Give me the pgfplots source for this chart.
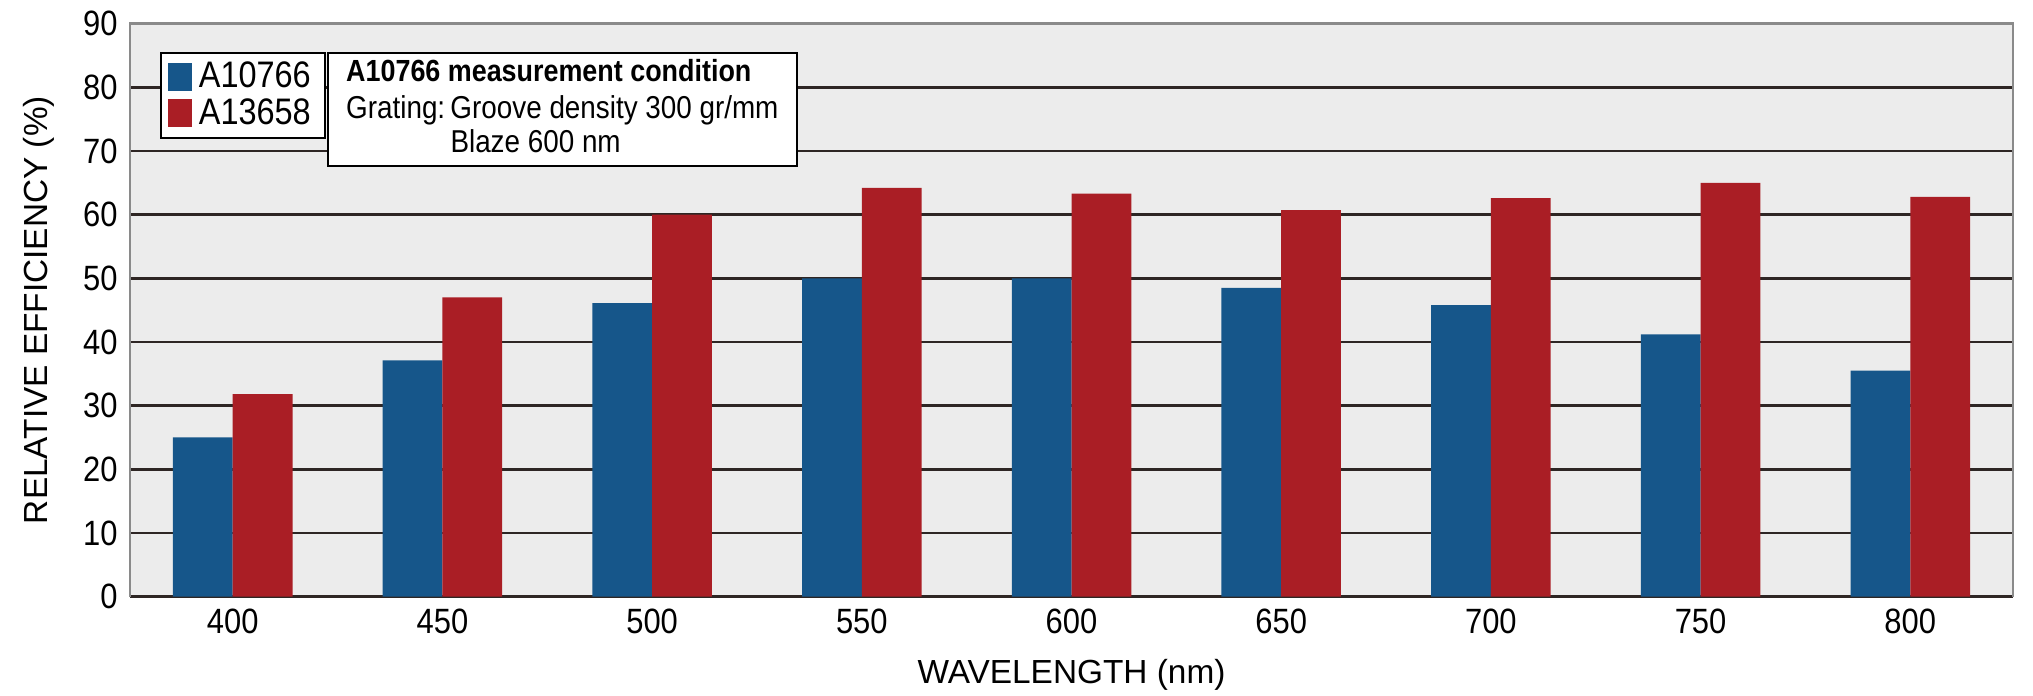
\documentclass[border=0pt]{standalone}
\usepackage{pgfplots}
\pgfplotsset{compat=1.18}
\usepackage{pgfplotstable}
\usepackage{fontspec}
\setmainfont{Liberation Sans}
\newfontfamily\cond[FakeStretch=0.88]{Liberation Sans}
\definecolor{cblue}{HTML}{16568A}
\definecolor{cred}{HTML}{AA1E25}
\definecolor{bgc}{HTML}{ECECEC}
\definecolor{gridc}{HTML}{2E2624}
\definecolor{framec}{HTML}{8A8A8A}

\pgfplotstableread{
idx A B
0 25.0 31.8
1 37.1 47.0
2 46.1 60.0
3 50.0 64.2
4 50.0 63.3
5 48.5 60.7
6 45.8 62.6
7 41.2 65.0
8 35.5 62.8
}\data

\begin{document}
\begin{tikzpicture}
\begin{axis}[name=ax, at={(0,0)}, anchor=south west,
  scale only axis, width=18.83cm, height=5.73cm,
  ybar=0pt, bar width=0.285,
  xmin=-0.49, xmax=8.49, ymin=0, ymax=90,
  ytick={0,10,...,90},
  xtick={0,...,8},
  xticklabels={400,450,500,550,600,650,700,750,800},
  /pgf/number format/assume math mode=true,
  major tick length=0pt,
  ymajorgrids, grid style={gridc, line width=0.7pt},
  axis background/.style={fill=bgc},
  axis line style={draw=none},
  clip=false,
  tick label style={font=\cond\fontsize{10}{12}\selectfont, text=black},
  xlabel={WAVELENGTH (nm)},
  ylabel={RELATIVE EFFICIENCY (\%)},
  label style={font=\fontsize{9.5}{11}\selectfont},
  xlabel style={at={(axis description cs:0.5,-0.136)}, anchor=center},
  ylabel style={at={(axis description cs:-0.0483,0.5)}, anchor=center},
  legend style={at={(rel axis cs:0.0158,0.95)}, anchor=north west,
    draw=black, fill=white, line width=0.6pt,
    font=\cond\fontsize{10.5}{11}\selectfont,
    inner xsep=2pt, inner ysep=0.5pt, row sep=-2.5pt,
    /tikz/every even column/.append style={column sep=1pt}},
  legend cell align=left,
  legend image code/.code={\path[#1] (0cm,-0.13cm) rectangle (0.24cm,0.15cm);},
]
\addplot[fill=cblue, draw=none] table[x=idx, y=A] {\data};
\addlegendentry{A10766}
\addplot[fill=cred, draw=none] table[x=idx, y=B] {\data};
\addlegendentry{A13658}
\draw[framec, line width=0.7pt] (rel axis cs:0,0) -- (rel axis cs:0,1) -- (rel axis cs:1,1) -- (rel axis cs:1,0);
\node[draw=black, fill=white, line width=0.6pt, anchor=north west,
  inner xsep=1.8mm, inner ysep=0.3mm, font=\cond\fontsize{9}{10.2}\selectfont]
  at (rel axis cs:0.1047,0.95)
  {\begin{tabular}{@{}l@{}}
   \makebox[4.33cm][l]{\fontsize{8.7}{10.2}\selectfont\textbf{A10766 measurement condition}}\\[0.3pt]
   Grating:\,Groove density 300 gr/mm\\[-0.5pt]
   \phantom{Grating:\,}Blaze 600 nm
   \end{tabular}};
\end{axis}
\pgfresetboundingbox
\path[use as bounding box] (-1.30cm,-0.985cm) rectangle (19.03cm,5.966cm);
\end{tikzpicture}
\end{document}
